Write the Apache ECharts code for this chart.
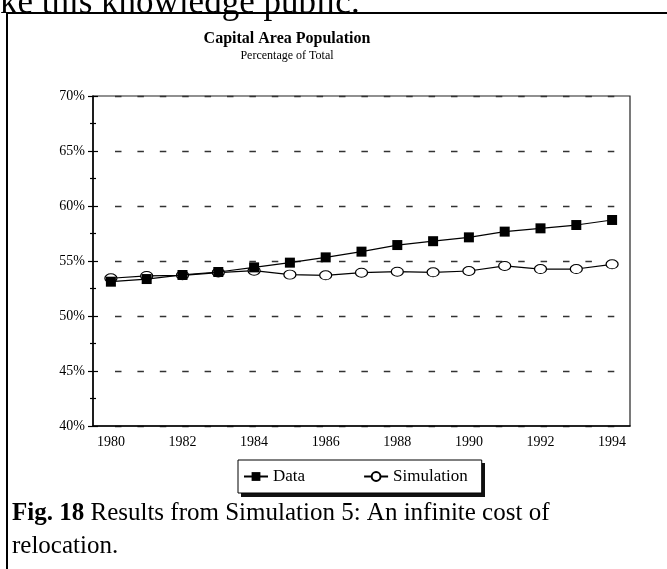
<!DOCTYPE html>
<html>
<head>
<meta charset="utf-8">
<title>Capital Area Population</title>
<script src="https://cdn.jsdelivr.net/npm/echarts@6/dist/echarts.min.js"></script>
<style>
    html, body { margin: 0; padding: 0; background: #fff; }
    #chart { width: 667px; height: 569px; }
</style>
</head>
<body>
<div id="chart"></div>
<script>
    // years on the category axis
    const years = ['1980', '1981', '1982', '1983', '1984', '1985', '1986', '1987',
        '1988', '1989', '1990', '1991', '1992', '1993', '1994']
    // percentage of total
    const dataValues = [53.12, 53.36, 53.73, 54.0, 54.42, 54.85, 55.33, 55.85,
        56.45, 56.8, 57.15, 57.67, 57.97, 58.27, 58.73]
    const simValues = [53.43, 53.64, 53.7, 53.95, 54.12, 53.76, 53.7, 53.94,
        54.03, 53.97, 54.09, 54.55, 54.27, 54.27, 54.7]
    const seriesNames = ['Data', 'Simulation']

    const serif = 'Liberation Serif, Times New Roman, serif'

    // dashes start one gap away from the axis, like the print
    const gridDash = [0, 22]
    for (let i = 0; i < 24; i++) {
        gridDash.push(6.5, 15.9)
    }

    let chartInstance = echarts.init(document.getElementById('chart'), null, { renderer: 'canvas' })

    const option = {
        backgroundColor: '#fff',
        animation: false,
        textStyle: { fontFamily: serif, color: '#000' },
        title: {
            text: 'Capital Area Population',
            subtext: 'Percentage of Total',
            left: 287,
            top: 31,
            textAlign: 'center',
            padding: 0,
            itemGap: 3,
            textStyle: { fontFamily: serif, fontSize: 16, fontWeight: 'bold', color: '#000' },
            subtextStyle: { fontFamily: serif, fontSize: 12, color: '#000' }
        },
        grid: {
            left: 93,
            right: 37,
            top: 96,
            bottom: 143,
            show: true,
            borderColor: '#222',
            borderWidth: 1.2,
            backgroundColor: 'transparent'
        },
        legend: {
            data: seriesNames,
            left: 238,
            top: 460,
            orient: 'horizontal',
            padding: [8, 14, 8, 5],
            itemWidth: 24,
            itemHeight: 11,
            itemGap: 58,
            backgroundColor: '#fff',
            borderColor: '#000',
            borderWidth: 1,
            textStyle: { fontFamily: serif, fontSize: 17, color: '#000' }
        },
        xAxis: [
            {
                type: 'category',
                data: years,
                position: 'bottom',
                boundaryGap: true,
                axisLine: { lineStyle: { color: '#000', width: 1.5 } },
                axisTick: { alignWithLabel: true, interval: 0, length: 6, lineStyle: { color: '#000', width: 1.2 } },
                axisLabel: { interval: 1, margin: 9, fontFamily: serif, fontSize: 14, color: '#000' },
                splitLine: { show: false }
            },
            {
                // inside half of the crossing ticks
                type: 'category',
                data: years,
                position: 'bottom',
                boundaryGap: true,
                axisLine: { show: false },
                axisTick: { inside: true, alignWithLabel: true, interval: 0, length: 6, lineStyle: { color: '#000', width: 1.2 } },
                axisLabel: { show: false },
                splitLine: { show: false }
            }
        ],
        yAxis: [
            {
                type: 'value',
                position: 'left',
                min: 40,
                max: 70,
                interval: 5,
                axisLine: { show: true, lineStyle: { color: '#000', width: 1.5 } },
                axisTick: { show: true, length: 5, lineStyle: { color: '#000', width: 1.2 } },
                minorTick: { show: true, splitNumber: 2, length: 3, lineStyle: { color: '#000', width: 1.2 } },
                axisLabel: { formatter: '{value}%', margin: 8, fontFamily: serif, fontSize: 14, color: '#000' },
                splitLine: { show: true, lineStyle: { color: '#333', width: 1.4, type: gridDash } }
            },
            {
                // inside half of the crossing ticks
                type: 'value',
                position: 'left',
                min: 40,
                max: 70,
                interval: 5,
                axisLine: { show: false },
                axisTick: { show: true, inside: true, length: 5, lineStyle: { color: '#000', width: 1.2 } },
                minorTick: { show: true, splitNumber: 2, length: 3, lineStyle: { color: '#000', width: 1.2 } },
                axisLabel: { show: false },
                splitLine: { show: false }
            }
        ],
        series: [
            {
                name: 'Simulation',
                type: 'line',
                data: simValues,
                symbol: 'circle',
                symbolSize: [12, 9],
                showAllSymbol: true,
                z: 2,
                lineStyle: { color: '#000', width: 1.2 },
                itemStyle: { color: '#fff', borderColor: '#000', borderWidth: 1.1 }
            },
            {
                name: 'Data',
                type: 'line',
                data: dataValues,
                symbol: 'rect',
                symbolSize: 10,
                showAllSymbol: true,
                z: 3,
                lineStyle: { color: '#000', width: 1.2 },
                itemStyle: { color: '#000', borderColor: '#000', borderWidth: 0 }
            }
        ],
        graphic: [
            {
                // outer figure frame, left and top edges
                type: 'polyline',
                silent: true,
                shape: { points: [[7, 569], [7, 13], [667, 13]] },
                style: { stroke: '#000', lineWidth: 2, fill: null }
            },
            {
                // drop shadow of the legend box
                type: 'rect',
                silent: true,
                z: -1,
                shape: { x: 241, y: 463, width: 244, height: 34 },
                style: { fill: '#111' }
            },
            {
                // body text cut off at the top of the page
                type: 'text',
                left: 0,
                top: -14,
                silent: true,
                style: {
                    text: 'ke this knowledge public.',
                    font: '35px ' + serif,
                    fill: '#000'
                }
            },
            {
                type: 'text',
                left: 12,
                top: 497,
                silent: true,
                style: {
                    text: '{b|Fig. 18} Results from Simulation 5: An infinite cost of\nrelocation.',
                    font: '25px ' + serif,
                    lineHeight: 33,
                    fill: '#000',
                    rich: {
                        b: { font: 'bold 25px ' + serif, fill: '#000' }
                    }
                }
            }
        ]
    }

    chartInstance.setOption(option)
</script>
</body>
</html>
